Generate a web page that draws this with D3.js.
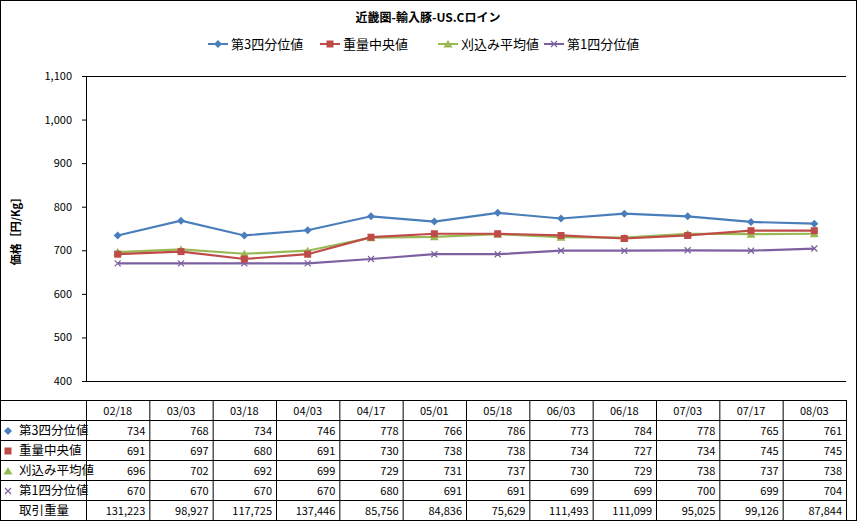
<!DOCTYPE html>
<html lang="ja">
<head>
<meta charset="utf-8">
<script src="https://cdn.jsdelivr.net/npm/d3@7"></script>
<style>
body { margin: 0; background: #fff; }
text { font-family: "Noto Sans CJK JP", "DejaVu Sans", sans-serif; }
</style>
</head>
<body>
<svg id="chart" width="857" height="521"></svg>
<script>
var dates = ["02/18","03/03","03/18","04/03","04/17","05/01","05/18","06/03","06/18","07/03","07/17","08/03"];
var q3 = [734,768,734,746,778,766,786,773,784,778,765,761];
var median = [691,697,680,691,730,738,738,734,727,734,745,745];
var trimmed = [696,702,692,699,729,731,737,730,729,738,737,738];
var q1 = [670,670,670,670,680,691,691,699,699,700,699,704];
var volume = [131223,98927,117725,137446,85756,84836,75629,111493,111099,95025,99126,87844];
var yTicks = [400,500,600,700,800,900,1000,1100];

var series = [
  {name: "第3四分位値", values: q3, color: "#4a7ebb", mark: "diamond"},
  {name: "重量中央値", values: median, color: "#be4b48", mark: "square"},
  {name: "刈込み平均値", values: trimmed, color: "#98b954", mark: "triangle"},
  {name: "第1四分位値", values: q1, color: "#7d60a0", mark: "x"}
];

var svg = d3.select("#chart");
var L = 86, R = 846, T = 76, B = 381;
svg.append("rect").attr("x", 0.5).attr("y", 0.5).attr("width", 856).attr("height", 520)
  .attr("fill", "#fff").attr("stroke", "#000");

var x = d3.scaleBand().domain(dates).range([L, R]);
var y = d3.scaleLinear().domain([400, 1100]).range([B, T]);
var fmt = d3.format(",");

svg.append("text").attr("x", 428).attr("y", 22).attr("text-anchor", "middle")
  .attr("font-size", 12).attr("font-weight", "bold").text("近畿圏-輸入豚-US.Cロイン");

// y axis
var ya = svg.append("g").attr("transform", "translate(" + L + ",0)")
  .call(d3.axisLeft(y).tickValues(yTicks).tickSize(4).tickFormat(fmt));
ya.selectAll("text").attr("font-size", 11).attr("x", -14).attr("fill", "#000");
ya.select(".domain").remove();
ya.selectAll("line").attr("stroke", "#000");
svg.append("line").attr("x1", L + 0.5).attr("x2", L + 0.5).attr("y1", T).attr("y2", B).attr("stroke", "#000");
svg.append("line").attr("x1", L).attr("x2", R).attr("y1", y(1100) + 0.5).attr("y2", y(1100) + 0.5).attr("stroke", "#000");
svg.append("line").attr("x1", L).attr("x2", R).attr("y1", y(400) + 0.5).attr("y2", y(400) + 0.5).attr("stroke", "#000");

svg.append("text").attr("transform", "translate(20," + ((T + B) / 2) + ") rotate(-90)")
  .attr("text-anchor", "middle").attr("font-size", 11).attr("font-weight", "bold").text("価格［円/Kg］");

function marker(g, type, color) {
  if (type === "diamond") g.append("path").attr("d", "M0,-4L4,0L0,4L-4,0Z").attr("fill", color);
  else if (type === "square") g.append("rect").attr("x", -3.5).attr("y", -3.5).attr("width", 7).attr("height", 7).attr("fill", color);
  else if (type === "triangle") g.append("path").attr("d", "M0,-4L4.5,3.5L-4.5,3.5Z").attr("fill", color);
  else g.append("path").attr("d", "M-3,-3L3,3M-3,3L3,-3").attr("stroke", color).attr("stroke-width", 1.2);
}

var line = d3.line().x(function(d, i) { return x(dates[i]) + x.bandwidth() / 2; }).y(function(d) { return y(d); });
series.slice().reverse().forEach(function(s) {
  svg.append("path").attr("d", line(s.values)).attr("fill", "none").attr("stroke", s.color).attr("stroke-width", 2.2);
  s.values.forEach(function(v, i) {
    marker(svg.append("g").attr("transform", "translate(" + (x(dates[i]) + x.bandwidth() / 2) + "," + y(v) + ")"), s.mark, s.color);
  });
});

// legend
var lx = [208, 320, 438, 544];
series.forEach(function(s, i) {
  var g = svg.append("g").attr("transform", "translate(" + lx[i] + ",44)");
  g.append("line").attr("x1", 0).attr("x2", 20).attr("stroke", s.color).attr("stroke-width", 2);
  marker(g.append("g").attr("transform", "translate(10,0)"), s.mark, s.color);
  g.append("text").attr("x", 23).attr("y", 5).attr("font-size", 13).text(s.name);
});

// table
var rowY = [400, 420, 440, 460, 480, 500, 520];
rowY.forEach(function(ry) {
  svg.append("line").attr("x1", 0).attr("x2", R).attr("y1", ry + 0.5).attr("y2", ry + 0.5).attr("stroke", "#000");
});
svg.append("line").attr("x1", R + 0.5).attr("x2", R + 0.5).attr("y1", 400).attr("y2", 520).attr("stroke", "#000");
dates.forEach(function(d) {
  svg.append("line").attr("x1", x(d) + 0.5).attr("x2", x(d) + 0.5).attr("y1", 400).attr("y2", 520).attr("stroke", "#000");
  svg.append("text").attr("x", x(d) + x.bandwidth() / 2).attr("y", 415).attr("text-anchor", "middle")
    .attr("font-size", 11).text(d);
});
var rows = series.concat([{name: "取引重量", values: volume}]);
rows.forEach(function(r, ri) {
  var cy = 420 + ri * 20 + 15;
  if (r.mark) marker(svg.append("g").attr("transform", "translate(8," + (cy - 4) + ")"), r.mark, r.color);
  svg.append("text").attr("x", 19).attr("y", cy).attr("font-size", 12.5).text(r.name);
  r.values.forEach(function(v, i) {
    svg.append("text").attr("x", x(dates[i]) + x.bandwidth() - 4).attr("y", cy)
      .attr("text-anchor", "end").attr("font-size", 11).text(fmt(v));
  });
});
</script>
</body>
</html>
